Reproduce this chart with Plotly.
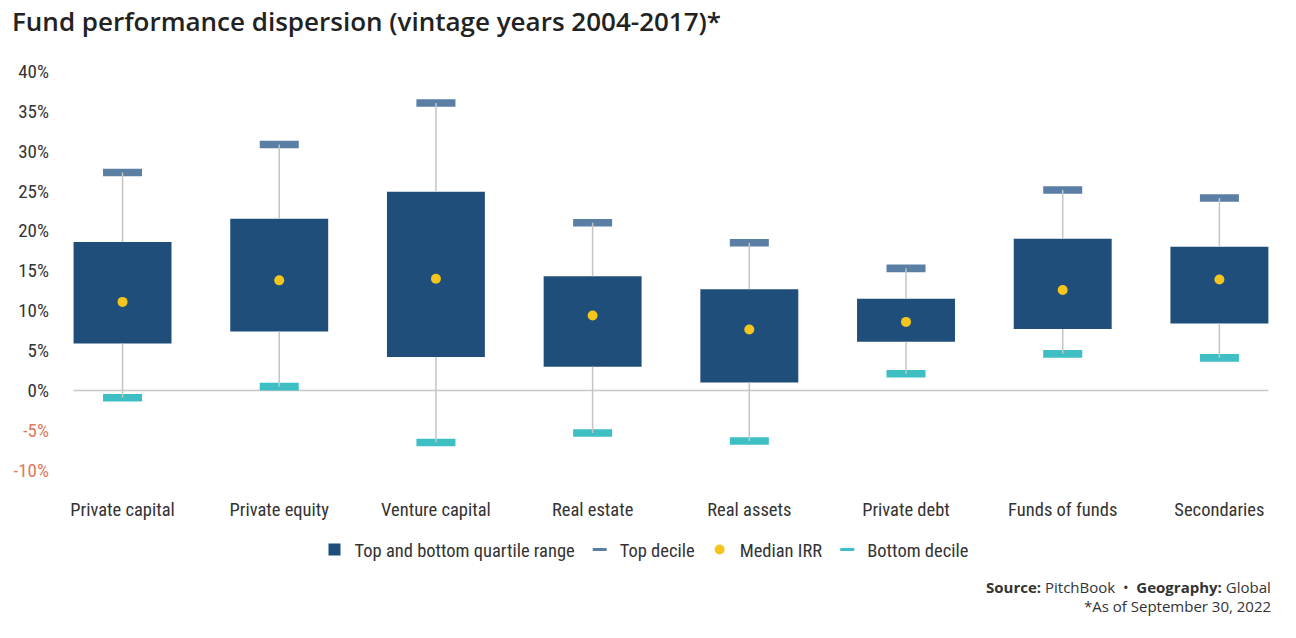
import plotly.graph_objects as go

categories = ["Private capital", "Private equity", "Venture capital", "Real estate",
              "Real assets", "Private debt", "Funds of funds", "Secondaries"]
top_decile = [27.3, 30.8, 36.0, 21.0, 18.5, 15.3, 25.1, 24.1]
upper_quartile = [18.6, 21.5, 24.9, 14.3, 12.7, 11.5, 19.0, 18.0]
median_irr = [11.1, 13.8, 14.0, 9.4, 7.65, 8.6, 12.6, 13.9]
lower_quartile = [5.9, 7.4, 4.2, 3.0, 1.0, 6.1, 7.7, 8.4]
bottom_decile = [-0.9, 0.5, -6.5, -5.3, -6.3, 2.1, 4.6, 4.1]

y_ticks = [-10, -5, 0, 5, 10, 15, 20, 25, 30, 35, 40]

BOX = "#1F4E7B"
TOPC = "#5B7FA4"
BOTC = "#3EBFC4"
MEDC = "#F4C51C"
TXT = "#333333"
NEG = "#E0785A"

FONT = "Roboto Condensed, Liberation Sans Narrow, Roboto, sans-serif"
SFONT = "Open Sans, Noto Sans, sans-serif"

W, H = 1296, 638

xs = list(range(len(categories)))
box_w = 0.625
dec_w = 0.249
dec_h = 0.95

fig = go.Figure()

# whiskers (outside the boxes only)
wx, wy = [], []
for i in xs:
    wx += [i, i, None, i, i, None]
    wy += [bottom_decile[i], lower_quartile[i], None, upper_quartile[i], top_decile[i], None]
fig.add_trace(go.Scatter(x=wx, y=wy, mode="lines", line=dict(color="#C4C4C4", width=1.5),
                         showlegend=False, hoverinfo="skip"))

# quartile boxes
fig.add_trace(go.Bar(x=xs, y=[u - l for u, l in zip(upper_quartile, lower_quartile)],
                     base=lower_quartile, width=box_w, marker=dict(color=BOX, line=dict(width=0)),
                     name="Top and bottom quartile range", legendrank=1, hoverinfo="skip"))

# decile bars
fig.add_trace(go.Bar(x=xs, y=[dec_h] * len(xs), base=[v - dec_h / 2 for v in top_decile],
                     width=dec_w, marker=dict(color=TOPC, line=dict(width=0)),
                     showlegend=False, hoverinfo="skip"))
fig.add_trace(go.Bar(x=xs, y=[dec_h] * len(xs), base=[v - dec_h / 2 for v in bottom_decile],
                     width=dec_w, marker=dict(color=BOTC, line=dict(width=0)),
                     showlegend=False, hoverinfo="skip"))

# median
fig.add_trace(go.Scatter(x=xs, y=median_irr, mode="markers",
                         marker=dict(color=MEDC, size=10, line=dict(width=0)),
                         name="Median IRR", legendrank=3, hoverinfo="skip"))

# legend-only entries
fig.add_trace(go.Scatter(x=[None], y=[None], mode="markers",
                         marker=dict(symbol="line-ew-open", size=10, color=TOPC, line=dict(width=3, color=TOPC)),
                         name="Top decile", legendrank=2))
fig.add_trace(go.Scatter(x=[None], y=[None], mode="markers",
                         marker=dict(symbol="line-ew-open", size=10, color=BOTC, line=dict(width=3, color=BOTC)),
                         name="Bottom decile", legendrank=4))

tick_text = []
for v in y_ticks:
    if v < 0:
        tick_text.append(f'<span style="color:{NEG}">{v}%</span>')
    else:
        tick_text.append(f"{v}%")

fig.add_shape(type="line", xref="x", yref="y", x0=-box_w / 2, x1=len(xs) - 1 + box_w / 2,
              y0=0, y1=0, line=dict(color="#C8C8C8", width=1.5), layer="below")

fig.update_layout(
    width=W, height=H,
    margin=dict(l=55, r=W - 1286, t=63, b=H - 484),
    paper_bgcolor="white", plot_bgcolor="white",
    barmode="overlay",
    showlegend=True,
    font=dict(family=FONT, color=TXT, size=18),
    title=dict(text="Fund performance dispersion (vintage years 2004-2017)*",
               x=12 / W, xanchor="left", xref="container",
               y=1 - 22 / H, yanchor="middle", yref="container",
               font=dict(family=SFONT, size=26, weight=600, color="#222222")),
    xaxis=dict(range=[-0.431, 7.425], tickvals=xs, ticktext=categories, showgrid=False,
               zeroline=False, showline=False, ticks="", ticklabelstandoff=18,
               tickfont=dict(size=18.5, color=TXT), fixedrange=True),
    yaxis=dict(range=[-11, 41], tickvals=y_ticks, ticktext=tick_text, showgrid=False,
               zeroline=False, showline=False, ticks="", ticklabelstandoff=5,
               tickfont=dict(size=19, color=TXT), fixedrange=True),
    legend=dict(orientation="h", xref="container", yref="container",
                x=644 / W, xanchor="center", y=1 - 550 / H, yanchor="middle",
                font=dict(size=18.5, color=TXT), itemwidth=30, traceorder="normal",
                bgcolor="rgba(0,0,0,0)"),
    annotations=[
        dict(text="<b>Source:</b> PitchBook  •  <b>Geography:</b> Global",
             xref="paper", yref="paper", x=1, y=0, showarrow=False,
             xanchor="right", yanchor="middle", xshift=-(1286 - 1273), yshift=-(592 - 484),
             font=dict(family=SFONT, size=15, color="#333333")),
        dict(text="*As of September 30, 2022",
             xref="paper", yref="paper", x=1, y=0, showarrow=False,
             xanchor="right", yanchor="middle", xshift=-(1286 - 1273), yshift=-(611 - 484),
             font=dict(family=SFONT, size=15, color="#333333")),
    ],
)

fig.write_html("out.html", post_script="document.body.style.margin='0';",
               config={"displayModeBar": False})
